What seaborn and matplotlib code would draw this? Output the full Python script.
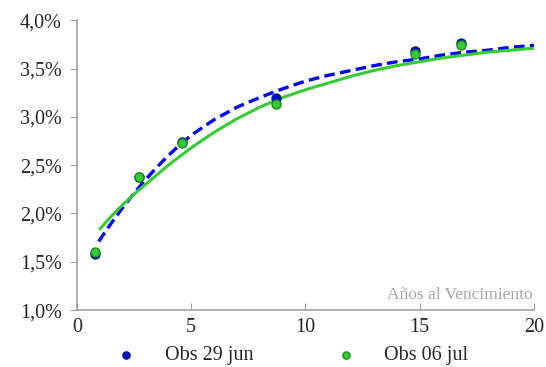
import seaborn as sns
import matplotlib.pyplot as plt
from matplotlib.ticker import FuncFormatter

# observaciones (años, tasa %)
plazos = [0.8, 2.7, 4.6, 8.7, 14.8, 16.8]
obs_29jun = [1.58, 2.38, 2.74, 3.19, 3.68, 3.76]
obs_06jul = [1.60, 2.38, 2.73, 3.13, 3.65, 3.74]

# curvas ajustadas
plazo_curva_29 = [0.95, 1.5, 2, 2.5, 3, 3.5, 4, 4.5, 5, 6, 7, 8, 9, 10,
                  11, 12, 13, 14, 15, 16, 17, 18, 19, 20]
curva_29jun = [1.71, 1.90, 2.06, 2.21, 2.35, 2.48, 2.60, 2.71, 2.81, 2.97,
               3.10, 3.20, 3.29, 3.37, 3.43, 3.48, 3.53, 3.57, 3.60, 3.64,
               3.67, 3.69, 3.72, 3.74]
plazo_curva_06 = [1.0, 1.5, 2, 2.5, 3, 3.5, 4, 4.5, 5, 6, 7, 8, 9, 10,
                  11, 12, 13, 14, 15, 16, 17, 18, 19, 20]
curva_06jul = [1.84, 1.97, 2.09, 2.20, 2.30, 2.40, 2.50, 2.59, 2.68, 2.84,
               2.98, 3.10, 3.20, 3.28, 3.35, 3.42, 3.48, 3.53, 3.57, 3.61,
               3.64, 3.67, 3.69, 3.71]

sns.set_style('white')
plt.rcParams['font.family'] = ['Liberation Serif', 'DejaVu Serif']

fig = plt.figure(figsize=(5.46, 3.67), dpi=100)
ax = fig.add_axes([0.141, 0.155, 0.837, 0.79])

sns.lineplot(x=plazo_curva_29, y=curva_29jun, ax=ax, color='#0000ff',
             linewidth=2.4, linestyle=(0, (3.2, 1.6)), zorder=2)
sns.lineplot(x=plazo_curva_06, y=curva_06jul, ax=ax, color='#33cc33',
             linewidth=2.2, zorder=3)
sns.scatterplot(x=plazos, y=obs_29jun, ax=ax, color='#0000ee', s=42,
                linewidth=1, edgecolor='#00207a', zorder=4, label='Obs 29 jun')
sns.scatterplot(x=plazos, y=obs_06jul, ax=ax, color='#33cc33', s=42,
                linewidth=1, edgecolor='#1e8a1e', zorder=5, label='Obs 06 jul')

ax.set_xlim(0, 20)
ax.set_ylim(1.0, 4.0)
ax.set_xticks([0, 5, 10, 15, 20])
ax.set_yticks([1.0, 1.5, 2.0, 2.5, 3.0, 3.5, 4.0])
ax.yaxis.set_major_formatter(FuncFormatter(lambda v, p: f'{v:.1f}%'.replace('.', ',')))
ax.set_xlabel('')
ax.set_ylabel('')

for s in ['top', 'right']:
    ax.spines[s].set_visible(False)
for s in ['left', 'bottom']:
    ax.spines[s].set_color('#a0a0a0')
    ax.spines[s].set_linewidth(1.2)
ax.tick_params(axis='y', direction='out', length=5, color='#a0a0a0', labelsize=14.5, pad=6)
ax.tick_params(axis='x', direction='in', length=5, color='#a0a0a0', labelsize=14.5, pad=6)
ax.tick_params(left=True, bottom=True)

ax.text(19.95, 1.07, 'Años al Vencimiento', color='#a6a6a6', fontsize=12.5,
        ha='right', va='bottom')

handles, labels = ax.get_legend_handles_labels()
ax.legend(handles, labels, loc='upper center', bbox_to_anchor=(0.46, -0.095),
          ncol=2, frameon=False, fontsize=14.5, handletextpad=0.9,
          columnspacing=3.6, markerscale=0.8, borderaxespad=0)

plt.savefig('out.png', dpi=100)
